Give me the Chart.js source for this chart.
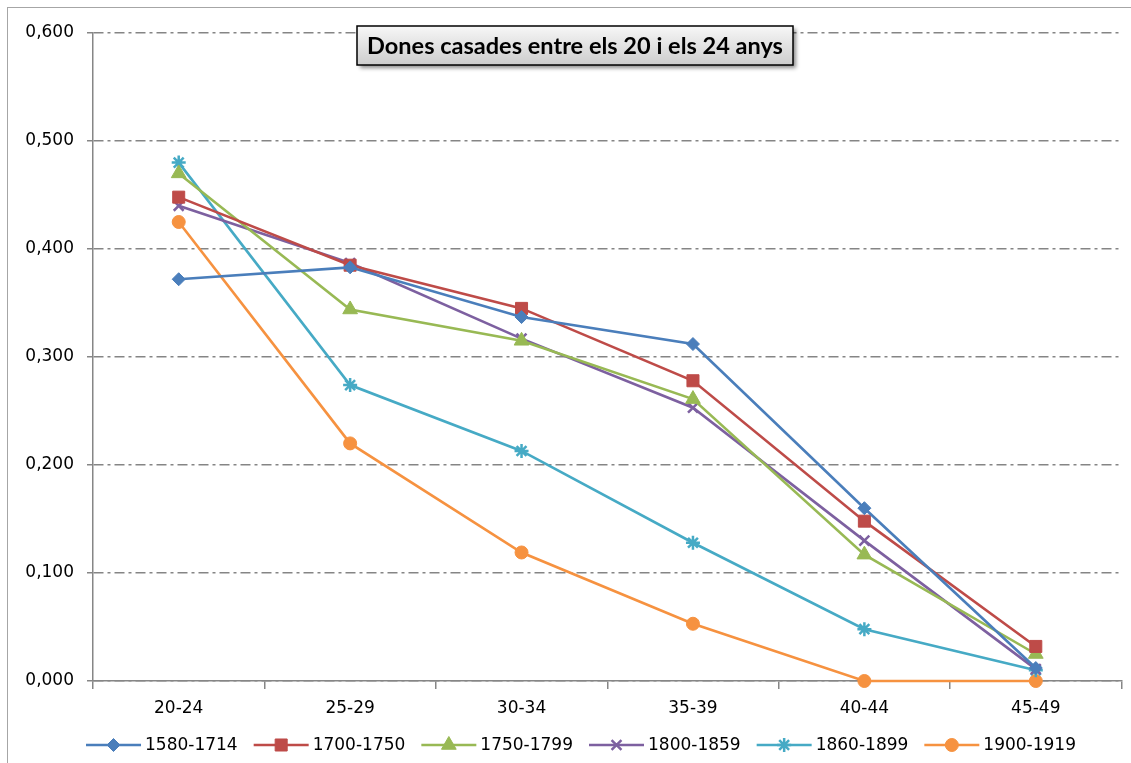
<!DOCTYPE html>
<html><head><meta charset="utf-8">
<script src="https://cdn.jsdelivr.net/npm/chart.js"></script>
<style>html,body{margin:0;padding:0;background:#fff}#wrap{width:1131px;height:763px;position:relative}canvas{display:block}</style>
</head><body><div id="wrap"><canvas id="c" width="1131" height="763"></canvas></div>
<script>
const chartTitle = 'Dones casades entre els 20 i els 24 anys';
const categories = ['20-24','25-29','30-34','35-39','40-44','45-49'];
const seriesLabels = ['1580-1714','1700-1750','1750-1799','1800-1859','1860-1899','1900-1919'];
const s1580 = [0.372,0.383,0.337,0.312,0.160,0.012];
const s1700 = [0.448,0.385,0.345,0.278,0.148,0.032];
const s1750 = [0.470,0.344,0.315,0.261,0.117,0.025];
const s1800 = [0.440,0.387,0.317,0.253,0.130,0.011];
const s1860 = [0.480,0.274,0.213,0.128,0.048,0.010];
const s1900 = [0.425,0.220,0.119,0.053,0.000,0.000];
const yTicks = [0,0.1,0.2,0.3,0.4,0.5,0.6];

const seriesValues = [s1580,s1700,s1750,s1800,s1860,s1900];
const colors = ['#4a7ebb','#be4b48','#98b954','#7d60a0','#46aac5','#f69240'];
const styles = ['rectRot','rect','triangle','crossRot','star','circle'];
const radii = [6.5,8.5,8.5,7,7,6.5];

const datasets = seriesLabels.map((lab,i)=>({
  label: lab,
  data: seriesValues[i],
  borderColor: colors[i],
  backgroundColor: colors[i],
  pointBackgroundColor: colors[i],
  pointBorderColor: colors[i],
  pointStyle: styles[i],
  pointRadius: radii[i],
  pointBorderWidth: (styles[i]==='crossRot'||styles[i]==='star') ? 2.5 : 1,
  borderWidth: 2.6,
  tension: 0,
  clip: false
}));

const frame = {
  id:'frame',
  beforeDraw(chart){
    const ctx = chart.ctx;
    ctx.save();
    ctx.fillStyle='#fff';
    ctx.fillRect(0,0,chart.width,chart.height);
    ctx.strokeStyle='#a6a6a6';
    ctx.lineWidth=1;
    ctx.strokeRect(7.5,7.5,1160,800);
    ctx.restore();
  }
};

const titleBox = {
  id:'titleBox',
  afterDraw(chart){
    const ctx = chart.ctx;
    const x=357, y=26, w=436, h=39;
    ctx.save();
    ctx.shadowColor='rgba(0,0,0,0.45)';
    ctx.shadowBlur=4; ctx.shadowOffsetX=3; ctx.shadowOffsetY=3;
    const g = ctx.createLinearGradient(0,y,0,y+h);
    g.addColorStop(0,'#f7f7f7'); g.addColorStop(1,'#cdcdcd');
    ctx.fillStyle=g;
    ctx.fillRect(x,y,w,h);
    ctx.shadowColor='transparent';
    ctx.strokeStyle='#000'; ctx.lineWidth=1.5;
    ctx.strokeRect(x,y,w,h);
    let size=21;
    ctx.font='bold '+size+'px Lato';
    const tw=ctx.measureText(chartTitle).width;
    size = Math.max(16, Math.min(24, size*416/tw));
    ctx.font='bold '+size.toFixed(2)+'px Lato';
    ctx.fillStyle='#000'; ctx.textAlign='center'; ctx.textBaseline='middle';
    ctx.fillText(chartTitle, x+w/2, y+h/2+1);
    ctx.restore();
  }
};

const legendPlugin = {
  id:'legendLine',
  afterDraw(chart){
    const ctx = chart.ctx;
    const ds = chart.data.datasets;
    const lineW=55, gapT=4, gapI=16, cy=745, center=581;
    ctx.save();
    ctx.font='17px "DejaVu Sans"';
    const widths = ds.map(d=>ctx.measureText(d.label).width);
    let total = widths.reduce((a,b)=>a+b,0) + ds.length*(lineW+gapT) + (ds.length-1)*gapI;
    let x = center - total/2;
    ds.forEach((d,i)=>{
      ctx.strokeStyle=d.borderColor; ctx.lineWidth=2.6;
      ctx.beginPath(); ctx.moveTo(x,cy); ctx.lineTo(x+lineW,cy); ctx.stroke();
      ctx.fillStyle=d.pointBackgroundColor; ctx.strokeStyle=d.pointBorderColor;
      ctx.lineWidth=d.pointBorderWidth;
      Chart.helpers.drawPoint(ctx,{pointStyle:d.pointStyle,radius:d.pointRadius,borderWidth:d.pointBorderWidth,rotation:0},x+lineW/2,cy);
      ctx.fillStyle='#000'; ctx.textAlign='left'; ctx.textBaseline='middle';
      ctx.font='17px "DejaVu Sans"';
      ctx.fillText(d.label, x+lineW+gapT, cy+1);
      x += lineW+gapT+widths[i]+gapI;
    });
    ctx.restore();
  }
};

new Chart(document.getElementById('c'), {
  type:'line',
  data:{ labels: categories, datasets },
  options:{
    responsive:false, animation:false, devicePixelRatio:1,
    layout:{ padding:{ left:0, right:7, top:33, bottom:0 } },
    plugins:{ legend:{display:false}, title:{display:false}, tooltip:{enabled:false} },
    scales:{
      x:{
        offset:true,
        grid:{ offset:true, drawOnChartArea:false, tickLength:8, color:'#868686', lineWidth:1.5 },
        border:{ color:'#868686', width:1.5 },
        ticks:{ font:{family:'DejaVu Sans', size:17}, color:'#000', padding:9, maxRotation:0 },
        afterFit(s){ s.height = 82; }
      },
      y:{
        min:0, max:0.6,
        afterBuildTicks(s){ s.ticks = yTicks.map(v=>({value:v})); },
        ticks:{ callback:v=>Number(v).toFixed(3).replace('.',','), font:{family:'DejaVu Sans', size:17}, color:'#000', padding:13 },
        grid:{ color:'#858585', lineWidth:1.5, tickLength:6, tickColor:'#868686', tickWidth:1.5, tickBorderDash:[] },
        border:{ color:'#868686', width:1.5, dash:[10,4,3,4] },
        afterFit(s){ s.width = 93; }
      }
    }
  },
  plugins:[frame, titleBox, legendPlugin]
});
</script>
</body></html>
